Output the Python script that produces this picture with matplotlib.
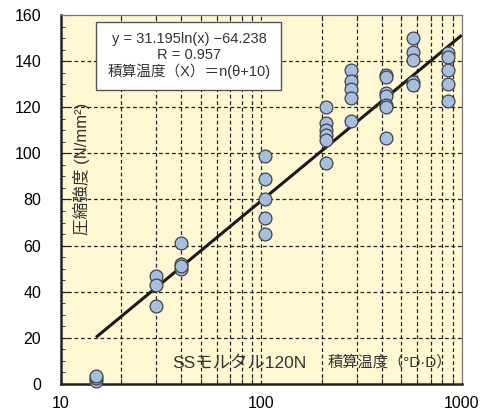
import numpy as np
import matplotlib.pyplot as plt
from matplotlib.ticker import FixedLocator, NullFormatter

plt.rcParams['font.family'] = ['Liberation Sans', 'Noto Sans CJK JP', 'DejaVu Sans']

# maturity (°D·D) and compressive strength (N/mm2)
maturity = [15, 15, 15,
            30, 30, 30,
            40, 40, 40, 40,
            104, 104, 104, 104, 104,
            210, 210, 210, 210, 210, 210,
            280, 280, 280, 280, 280,
            420, 420, 420, 420, 420, 420, 420,
            570, 570, 570, 570, 570,
            850, 850, 850, 850, 850]
strength = [1.5, 2.5, 3.5,
            47, 43, 34,
            61, 52, 50, 51,
            99, 89, 80, 72, 65,
            120, 113, 110, 108, 106, 96,
            136, 131.5, 128, 124, 114,
            134, 133, 126, 125, 121, 120, 106.5,
            150, 144, 140.5, 131, 129.5,
            143.5, 142, 136, 130, 122.5]

coef_a = 31.195
coef_b = -64.238
r_value = 0.957

fig = plt.figure(figsize=(4.89, 4.11), dpi=100)
ax = fig.add_axes([0.1241, 0.0657, 0.8201, 0.8978])
ax.set_facecolor('#FFF8D2')

ax.set_xscale('log')
ax.set_xlim(10, 1000)
ax.set_ylim(0, 160)

# dashed grid at every log step and every 20
xgrid = [v * d for d in (10, 100) for v in range(2, 10)] + [100]
for xv in xgrid:
    ax.axvline(xv, color='#222222', lw=0.9, ls=(0, (3, 2.2)), zorder=1)
for yv in range(20, 160, 20):
    ax.axhline(yv, color='#222222', lw=0.9, ls=(0, (3, 2.2)), zorder=1)

# regression line
xl = np.array([15, 1000])
ax.plot(xl, coef_a * np.log(xl) + coef_b, color='#1a1a1a', lw=2.2, zorder=3, solid_capstyle='butt')

ax.scatter(maturity, strength, s=85, facecolor='#A7BFDC', edgecolor='#3c434c', linewidth=0.9, zorder=4, clip_on=False)

ax.xaxis.set_major_locator(FixedLocator([10, 100, 1000]))
ax.xaxis.set_minor_locator(FixedLocator(xgrid))
ax.xaxis.set_minor_formatter(NullFormatter())
ax.set_xticklabels(['10', '100', '1000'])
ax.yaxis.set_major_locator(FixedLocator(range(0, 161, 20)))
ax.yaxis.set_minor_locator(FixedLocator(range(5, 160, 5)))
ax.tick_params(axis='both', which='both', direction='in', top=True, right=False, labelsize=11.5, color='#222222')
ax.tick_params(axis='x', which='major', length=0, pad=9)
ax.tick_params(axis='x', which='minor', length=4)
ax.tick_params(axis='y', which='major', length=6, pad=14)
ax.tick_params(axis='y', which='minor', length=3)

ax.spines['left'].set_linewidth(1.8)
ax.spines['bottom'].set_linewidth(1.8)
ax.spines['left'].set_color('#222222')
ax.spines['bottom'].set_color('#222222')
ax.spines['top'].set_linewidth(0.9)
ax.spines['right'].set_linewidth(0.9)
ax.spines['top'].set_color('#777777')
ax.spines['right'].set_color('#777777')

eq_text = ('y = %.3fln(x) \u2212%.3f\nR = %.3f\n積算温度（X）＝n(θ+10)'
           % (coef_a, -coef_b, r_value))
ax.text(0.3197, 0.889, eq_text, transform=ax.transAxes, ha='center', va='center',
        fontsize=10.5, color='#333333', linespacing=1.15, zorder=6,
        bbox=dict(boxstyle='square,pad=0.75', facecolor='white', edgecolor='#555555', linewidth=1.0))

ax.text(0.053, 0.583, '圧縮強度 (N/mm²)', transform=ax.transAxes, rotation=90,
        ha='center', va='center', fontsize=12, color='#333333', zorder=6)
ax.text(0.277, 0.058, 'SSモルタル120N', transform=ax.transAxes, ha='left', va='center',
        fontsize=12.5, color='#333333', zorder=6)
ax.text(0.665, 0.058, '積算温度（°D·D）', transform=ax.transAxes, ha='left', va='center',
        fontsize=11, color='#333333', zorder=6)

fig.savefig('out.png', dpi=100)
